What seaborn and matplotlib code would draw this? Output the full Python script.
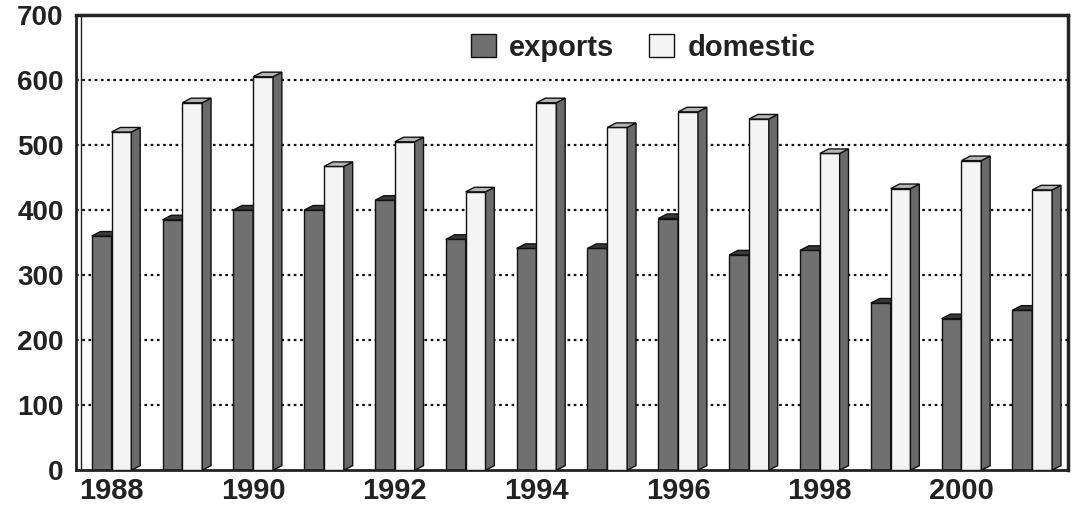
import matplotlib
matplotlib.use("Agg")
import matplotlib.pyplot as plt
from matplotlib.patches import Polygon
import seaborn as sns
import pandas as pd
import numpy as np

years = [1988, 1989, 1990, 1991, 1992, 1993, 1994,
         1995, 1996, 1997, 1998, 1999, 2000, 2001]
exports = [360, 385, 400, 400, 415, 355, 341, 341, 387, 331, 338, 257, 233, 246]
domestic = [520, 565, 605, 467, 505, 428, 565, 527, 551, 540, 487, 433, 476, 431]
series = ["exports", "domestic"]
y_ticks = [0, 100, 200, 300, 400, 500, 600, 700]

df = pd.DataFrame({
    "year": [str(y) for y in years] * 2,
    "series": ["exports"] * len(years) + ["domestic"] * len(years),
    "value": exports + domestic,
})

sns.set_theme(style="white")
plt.rcParams["font.family"] = ["Liberation Sans", "DejaVu Sans"]
plt.rcParams["font.weight"] = "bold"

fig = plt.figure(figsize=(10.72, 5.15), dpi=100)
ax = fig.add_axes([0.071, 0.087, 0.925, 0.884])

face = {"exports": "#707070", "domestic": "#f4f4f4"}
side = {"exports": "#4a4a4a", "domestic": "#6a6a6a"}
cap = {"exports": "#3a3a3a", "domestic": "#b5b5b5"}

sns.barplot(data=df, x="year", y="value", hue="series", hue_order=series,
            palette=face, width=0.56, gap=0, edgecolor="#111111",
            linewidth=1.0, saturation=1, legend=False, ax=ax, zorder=2)

ax.set_xlim(-0.5, len(years) - 0.5)
ax.set_ylim(0, 700)

# pseudo-3D depth: right side face and top cap for every bar
dx, dy = 0.125, 7.0
bars = [p for p in ax.patches]
n = len(years)
for i, p in enumerate(bars):
    name = series[i // n]
    z = 2 if name == "exports" else 3
    p.set_zorder(z)
    x0, y0 = p.get_x(), p.get_y()
    w, h = p.get_width(), p.get_height()
    x1, y1 = x0 + w, y0 + h
    s = Polygon([(x1, y0), (x1 + dx, y0 + dy), (x1 + dx, y1 + dy), (x1, y1)],
                closed=True, facecolor=side[name], edgecolor="#111111",
                linewidth=1.0, zorder=z)
    c = Polygon([(x0, y1), (x0 + dx, y1 + dy), (x1 + dx, y1 + dy), (x1, y1)],
                closed=True, facecolor=cap[name], edgecolor="#111111",
                linewidth=1.0, zorder=z + 0.1)
    ax.add_patch(s)
    ax.add_patch(c)

# dotted gridlines on the back wall
for v in y_ticks[1:-1]:
    ax.axhline(v, color="#111111", linestyle=(0, (1.2, 1.6)), linewidth=1.6,
               zorder=1)

ax.set_yticks(y_ticks)
ax.set_yticklabels([str(v) for v in y_ticks], fontsize=20, fontweight="bold",
                   color="#222222")

# year labels on every other group, ticks at group boundaries
ax.set_xticks(range(0, n, 2))
ax.set_xticklabels([str(y) for y in years[::2]], fontsize=21,
                   fontweight="bold", color="#222222")
ax.tick_params(axis="x", which="major", length=0, pad=5)
ax.set_xticks(np.arange(-0.5, n, 1.0), minor=True)
ax.tick_params(axis="x", which="minor", length=6, width=1.2,
               color="#222222", direction="out")
ax.tick_params(axis="y", length=6, width=1.2, color="#222222",
               direction="out", pad=3)

ax.set_xlabel("")
ax.set_ylabel("")

for sp in ax.spines.values():
    sp.set_visible(True)
    sp.set_color("#222222")
ax.spines["left"].set_linewidth(2.0)
ax.spines["bottom"].set_linewidth(2.0)
ax.spines["top"].set_linewidth(2.5)
ax.spines["right"].set_linewidth(2.5)
# inner wall edge next to the value axis
ax.axvline(-0.5 + 0.07, color="#222222", linewidth=1.0, zorder=1.5)

handles = [plt.Rectangle((0, 0), 1, 1, facecolor=face[s_], edgecolor="#111111",
                         linewidth=1.0) for s_ in series]
leg = ax.legend(handles, series, ncol=2, loc="center",
                bbox_to_anchor=(0.572, 0.928), frameon=False,
                prop={"family": "Liberation Sans", "weight": "bold", "size": 21},
                handlelength=0.85, handleheight=0.85, handletextpad=0.45,
                columnspacing=1.2)
for t in leg.get_texts():
    t.set_color("#222222")

fig.savefig("out.png", dpi=100, facecolor="white")
